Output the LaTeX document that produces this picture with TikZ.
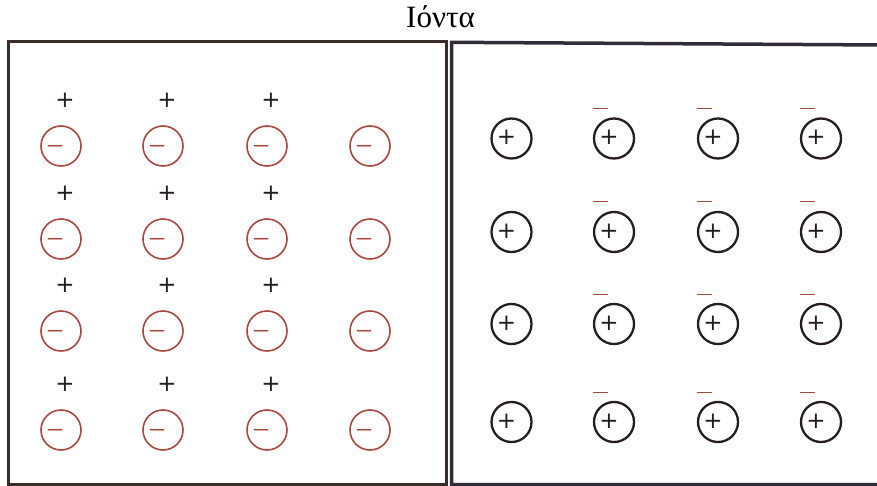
\documentclass[tikz,border=0pt]{standalone}
\usepackage{fontspec}
\setmainfont{Liberation Serif}
\newfontfamily\sansf{DejaVu Sans}
\definecolor{ionred}{RGB}{168,72,62}
\definecolor{ionblack}{RGB}{38,30,30}
\definecolor{frameL}{RGB}{58,44,40}
\definecolor{frameR}{RGB}{48,44,56}
\begin{document}
\begin{tikzpicture}[x=1pt,y=-1pt,
  anion/.style={circle, draw=ionred, line width=1.6pt, minimum size=40pt, inner sep=0pt},
  cation/.style={circle, draw=ionblack, line width=2.3pt, minimum size=40pt, inner sep=0pt},
  plussign/.style={inner sep=0pt, font=\sansf\fontsize{23}{23}\selectfont, text=ionblack},
  minussign/.style={inner sep=0pt, font=\fontsize{31}{31}\selectfont, text=ionred},
  dashmark/.style={draw=ionred, line width=1pt},
  frameleft/.style={draw=frameL, line width=3pt},
  frameright/.style={draw=frameR, line width=3.5pt}
]
\useasboundingbox (0,0) rectangle (877,486);
% title
\node[anchor=base, inner sep=0pt, font=\fontsize{31}{31}\selectfont, text=black] (title) at (440.5,28) {Ιόντα};
% frames
\draw[frameleft] (8.5,42) -- (446,42) -- (446,484.5) -- (8.5,484.5) -- cycle;
\draw[frameright] (882,45) -- (451.5,42.3) -- (451.5,484.5) -- (882,484.5);
% left box: anions with counter ions
\foreach \y [count=\j] in {146,239,331,430} {
  \foreach \x [count=\i] in {61,163,267,370} {
    \node[anion] (L-\i-\j) at (\x,\y) {};
    \node[minussign] (Lm-\i-\j) at ([shift={(-6,4.5)}]L-\i-\j.center) {−};
  }
  \foreach \x [count=\i] in {65,167,271} {
    \node[plussign] (Lp-\i-\j) at (\x,\y-46) {+};
  }
}
% right box: cations
\foreach \y [count=\j] in {138.5,232,324,422} {
  \foreach \x [count=\i] in {511.5,614,718,821} {
    \node[cation] (R-\i-\j) at (\x,\y) {};
    \node[plussign] (Rp-\i-\j) at ([shift={(-5,-1)}]R-\i-\j.center) {+};
  }
  \foreach \x in {614,718,821} {
    \draw[dashmark] (\x-21,\y-30) -- (\x-6,\y-30);
  }
}
\end{tikzpicture}
\end{document}
